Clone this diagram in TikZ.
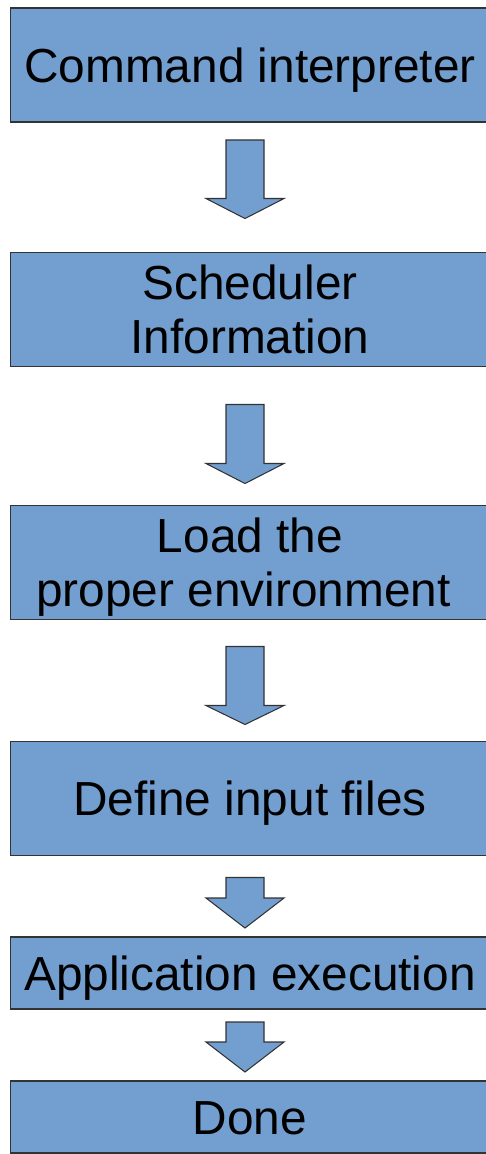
\documentclass[tikz,border=0pt]{standalone}
\usepackage{fontspec}
\setmainfont{Liberation Sans}
\usetikzlibrary{calc, positioning}

\definecolor{boxfill}{HTML}{729FCF}
\definecolor{boxline}{HTML}{333333}

\tikzset{
  stage/.style={draw=boxline, fill=boxfill, line width=0.6pt, rectangle,
    minimum width=9.6cm, minimum height=2.28cm, inner sep=0pt, outer sep=0pt,
    align=center, text height=19.4pt, text depth=0pt},
  twoline/.style={text height=50pt},
  short/.style={minimum height=1.44cm},
  blockarr/.style={draw=boxline, fill=boxfill, line width=0.6pt, line join=miter}
}

% block arrow: from, to, gap below from, gap above to, head length
\newcommand{\blockarrow}[5]{%
  \draw[blockarr] ($(#1.south)+(-24,#3)$) -- ($(#2.north)+(-24,-#4-#5)$)
    -- ($(#2.north)+(-44,-#4-#5)$) -- ($(#2.north)+(-5,-#4)$)
    -- ($(#2.north)+(34,-#4-#5)$) -- ($(#2.north)+(14,-#4-#5)$)
    -- ($(#1.south)+(14,#3)$) -- cycle;}

\begin{document}
\begin{tikzpicture}[x=0.02cm, y=-0.02cm, font=\fontsize{27.2}{30.6}\selectfont]
    \useasboundingbox (0,0) rectangle (486,1154);
    \clip (0,0) rectangle (486,1154);

    \node[stage] (cmd) at (250,65) {Command interpreter};
    \node[stage, twoline] (sched) at (250,309.5) {Scheduler\\Information};
    \node[stage, twoline] (env) at (250,562.5) {Load the\\proper environment\kern0.278em};
    \node[stage] (input) at (250,798.5) {Define input files};
    \node[stage, short] (exec) at (250,973) {Application execution};
    \node[stage, short] (done) at (250,1117) {Done};

    \blockarrow{cmd}{sched}{18}{34}{20}
    \blockarrow{sched}{env}{38}{22}{20}
    \blockarrow{env}{input}{27}{17}{19}
    \blockarrow{input}{exec}{22}{9}{30}
    \blockarrow{exec}{done}{13}{9}{30}
\end{tikzpicture}
\end{document}
